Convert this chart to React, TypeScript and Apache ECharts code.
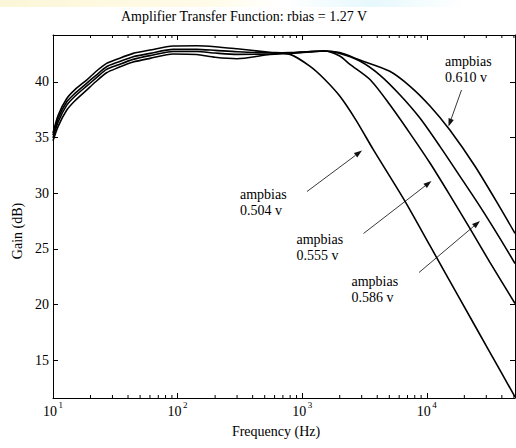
import React, { useEffect, useRef } from "react";
import * as echarts from "echarts";

// ---- axis ranges & tick values ----
const X_MIN = 10;
const X_MAX = 51000;
const Y_MIN = 11.6;
const Y_MAX = 44.2;
const MINOR_TICKS = [
  20, 30, 40, 50, 60, 70, 80, 90,
  200, 300, 400, 500, 600, 700, 800, 900,
  2000, 3000, 4000, 5000, 6000, 7000, 8000, 9000,
  20000, 30000, 40000, 50000,
];

// ---- series: ampbias 0.504 V ----
const A_FREQ = [10, 11, 12.9, 15, 18.6, 22, 26.9, 33, 44, 60, 92, 142, 200, 300, 550, 800, 1150, 1470, 2000, 2700, 3700, 6600, 10600, 18400, 32000, 51000];
const A_GAIN = [35.4, 37.0, 38.5, 39.3, 40.15, 40.9, 41.65, 42.05, 42.55, 42.85, 43.21, 43.23, 43.15, 42.96, 42.65, 42.46, 41.41, 40.36, 38.72, 36.56, 33.95, 29.37, 25.28, 20.5, 15.72, 11.7];

// ---- series: ampbias 0.555 V ----
const B_FREQ = [10, 11, 12.9, 15, 18.6, 22, 26.9, 33, 44, 60, 92, 142, 200, 300, 550, 800, 1150, 1500, 2000, 2400, 3500, 5000, 7300, 10600, 15300, 22100, 32000, 51000];
const B_GAIN = [35.2, 36.7, 38.2, 38.95, 39.86, 40.55, 41.35, 41.75, 42.25, 42.55, 42.91, 42.91, 42.82, 42.7, 42.6, 42.62, 42.72, 42.76, 42.31, 41.59, 40.2, 38.0, 35.39, 32.7, 29.82, 26.86, 23.8, 20.09];

// ---- series: ampbias 0.586 V ----
const C_FREQ = [10, 11, 12.9, 15, 18.6, 22, 26.9, 33, 44, 60, 92, 142, 200, 300, 550, 800, 1150, 1500, 2000, 2900, 4200, 6100, 8800, 12700, 18400, 26600, 38500, 51000];
const C_GAIN = [34.95, 36.4, 37.9, 38.7, 39.61, 40.3, 41.11, 41.5, 42.01, 42.35, 42.72, 42.72, 42.58, 42.46, 42.5, 42.58, 42.7, 42.76, 42.55, 41.86, 40.6, 38.81, 36.74, 34.22, 31.53, 28.83, 25.96, 23.68];

// ---- series: ampbias 0.610 V ----
const D_FREQ = [10, 11, 12.9, 15, 18.6, 22, 26.9, 33, 44, 60, 92, 142, 200, 300, 550, 800, 1150, 1500, 2000, 2900, 5000, 7300, 10600, 15300, 24300, 38500, 51000];
const D_GAIN = [34.7, 36.0, 37.46, 38.3, 39.25, 40.0, 40.81, 41.25, 41.77, 42.1, 42.5, 42.45, 42.2, 42.07, 42.45, 42.55, 42.68, 42.76, 42.62, 41.95, 40.96, 39.61, 37.82, 35.66, 32.43, 28.74, 26.38];

const SERIES_NAMES = ["0.504 v", "0.555 v", "0.586 v", "0.610 v"];

// ---- annotations (text + arrow, in pixel layout) ----
const ANNOTATIONS = [
  { label: "ampbias\n0.504 v", tx: 240, ty: 202, from: [307, 191.5], to: [362, 150.5] },
  { label: "ampbias\n0.555 v", tx: 296.5, ty: 247.5, from: [363.5, 233.5], to: [431.5, 181] },
  { label: "ampbias\n0.586 v", tx: 351.5, ty: 289, from: [419, 272.5], to: [480, 221] },
  { label: "ampbias\n0.610 v", tx: 445, ty: 69.5, from: [461.5, 90], to: [448.5, 126.5] },
];

const FONT = "Liberation Serif";

function zip(f: number[], g: number[]) {
  return f.map((v, i) => [v, g[i]]);
}

function arrowGraphics(from: number[], to: number[]) {
  const dx = to[0] - from[0];
  const dy = to[1] - from[1];
  const len = Math.sqrt(dx * dx + dy * dy);
  const ux = dx / len;
  const uy = dy / len;
  const hl = 8;
  const hw = 2.8;
  const bx = to[0] - ux * hl;
  const by = to[1] - uy * hl;
  return [
    {
      type: "line",
      shape: { x1: from[0], y1: from[1], x2: bx, y2: by },
      style: { stroke: "#222", lineWidth: 0.9 },
      silent: true,
    },
    {
      type: "polygon",
      shape: {
        points: [
          [to[0], to[1]],
          [bx - uy * hw, by + ux * hw],
          [bx + uy * hw, by - ux * hw],
        ],
      },
      style: { fill: "#111" },
      silent: true,
    },
  ];
}

export default function App() {
  const ref = useRef<HTMLDivElement>(null);

  useEffect(() => {
    if (!ref.current) return;
    const chart = echarts.init(ref.current, null, { renderer: "svg" });

    const logLabel = (v: number) => {
      const e = Math.log10(v);
      const r = Math.round(e);
      if (Math.abs(e - r) < 1e-6) return "{s|" + r + "}\n{b|10}{g|}";
      return "";
    };

    const axisCommon = {
      axisLine: { show: true, onZero: false, lineStyle: { color: "#000", width: 1 } },
      splitLine: { show: false },
      minorTick: { show: false },
      minorSplitLine: { show: false },
    };

    const lineSeries = [
      [A_FREQ, A_GAIN],
      [B_FREQ, B_GAIN],
      [C_FREQ, C_GAIN],
      [D_FREQ, D_GAIN],
    ].map((p, i) => ({
      name: SERIES_NAMES[i],
      type: "line",
      xAxisIndex: 0,
      yAxisIndex: 0,
      data: zip(p[0] as number[], p[1] as number[]),
      showSymbol: false,
      symbol: "none",
      smooth: 0.25,
      clip: true,
      lineStyle: { color: "#000", width: 1.6 },
      itemStyle: { color: "#000" },
      silent: true,
      z: 3,
    }));

    const graphics: any[] = [
      {
        type: "rect",
        shape: { x: 0, y: 0, width: 516, height: 7 },
        style: {
          fill: new echarts.graphic.LinearGradient(0, 0, 1, 0, [
            { offset: 0, color: "#fcf6d8" },
            { offset: 0.4, color: "#fffbe8" },
            { offset: 0.55, color: "#ffffff" },
            { offset: 0.72, color: "#e6f8fc" },
            { offset: 0.9, color: "#ffffff" },
            { offset: 1, color: "#ffffff" },
          ]),
        },
        silent: true,
        z: -1,
      },
      {
        type: "text",
        x: 244,
        y: 16,
        style: {
          text: "Amplifier Transfer Function: rbias = 1.27 V",
          font: "14px '" + FONT + "'",
          fill: "#000",
          align: "center",
          verticalAlign: "middle",
        },
      },
      {
        type: "text",
        x: 276,
        y: 431,
        style: {
          text: "Frequency (Hz)",
          font: "14px '" + FONT + "'",
          fill: "#000",
          align: "center",
          verticalAlign: "middle",
        },
      },
      {
        type: "text",
        x: 17,
        y: 231,
        rotation: Math.PI / 2,
        style: {
          text: "Gain (dB)",
          font: "14px '" + FONT + "'",
          fill: "#000",
          align: "center",
          verticalAlign: "middle",
        },
      },
    ];

    ANNOTATIONS.forEach((a) => {
      graphics.push({
        type: "text",
        x: a.tx,
        y: a.ty,
        style: {
          text: a.label,
          font: "14px '" + FONT + "'",
          lineHeight: 16,
          fill: "#000",
          align: "left",
          verticalAlign: "middle",
        },
      });
      arrowGraphics(a.from, a.to).forEach((g) => graphics.push(g));
    });

    const option: any = {
      animation: false,
      backgroundColor: "#fff",
      textStyle: { fontFamily: FONT, color: "#000" },
      grid: {
        left: 53,
        top: 35,
        width: 462,
        height: 363,
        containLabel: false,
        outerBoundsMode: "none",
        show: false,
      },
      xAxis: [
        {
          type: "log",
          logBase: 10,
          min: X_MIN,
          max: X_MAX,
          position: "bottom",
          ...axisCommon,
          axisTick: { show: true, inside: true, length: 5, lineStyle: { color: "#000", width: 1 } },
          axisLabel: {
            show: true,
            margin: 5,
            formatter: logLabel,
            color: "#000",
            rich: {
              s: { fontSize: 9, fontFamily: FONT, color: "#000", lineHeight: 4, align: "right" },
              b: { fontSize: 14, fontFamily: FONT, color: "#000", lineHeight: 8 },
              g: { width: 6, lineHeight: 8 },
            },
          },
        },
        {
          type: "log",
          logBase: 10,
          min: X_MIN,
          max: X_MAX,
          position: "top",
          ...axisCommon,
          axisTick: { show: true, inside: true, length: 5, lineStyle: { color: "#000", width: 1 } },
          axisLabel: { show: false },
        },
      ],
      yAxis: [
        {
          type: "value",
          min: Y_MIN,
          max: Y_MAX,
          position: "left",
          ...axisCommon,
          axisTick: { show: true, inside: true, length: 5, lineStyle: { color: "#000", width: 1 } },
          axisLabel: {
            show: true,
            margin: 4,
            fontSize: 14,
            fontFamily: FONT,
            color: "#000",
            formatter: (v: number) => (Math.abs(v / 5 - Math.round(v / 5)) < 1e-6 ? String(Math.round(v)) : ""),
          },
        },
        {
          type: "value",
          min: Y_MIN,
          max: Y_MAX,
          position: "right",
          ...axisCommon,
          axisTick: { show: true, inside: true, length: 5, lineStyle: { color: "#000", width: 1 } },
          axisLabel: { show: false },
        },
      ],
      series: [
        ...lineSeries,
        {
          type: "custom",
          xAxisIndex: 0,
          yAxisIndex: 0,
          silent: true,
          clip: false,
          data: MINOR_TICKS.map((f) => [f, Y_MIN]),
          encode: { x: 0, y: 1 },
          renderItem: (params: any, api: any) => {
            const f = api.value(0);
            const pb = api.coord([f, Y_MIN]);
            const pt = api.coord([f, Y_MAX]);
            return {
              type: "group",
              children: [
                { type: "line", shape: { x1: pb[0], y1: pb[1], x2: pb[0], y2: pb[1] - 3 }, style: { stroke: "#000", lineWidth: 1 } },
                { type: "line", shape: { x1: pt[0], y1: pt[1], x2: pt[0], y2: pt[1] + 3 }, style: { stroke: "#000", lineWidth: 1 } },
              ],
            };
          },
        },
      ],
      graphic: graphics,
    };

    chart.setOption(option);
    return () => chart.dispose();
  }, []);

  return (
    <div
      ref={ref}
      style={{ position: "absolute", left: 0, top: 0, width: 516, height: 448, background: "#fff" }}
    />
  );
}
